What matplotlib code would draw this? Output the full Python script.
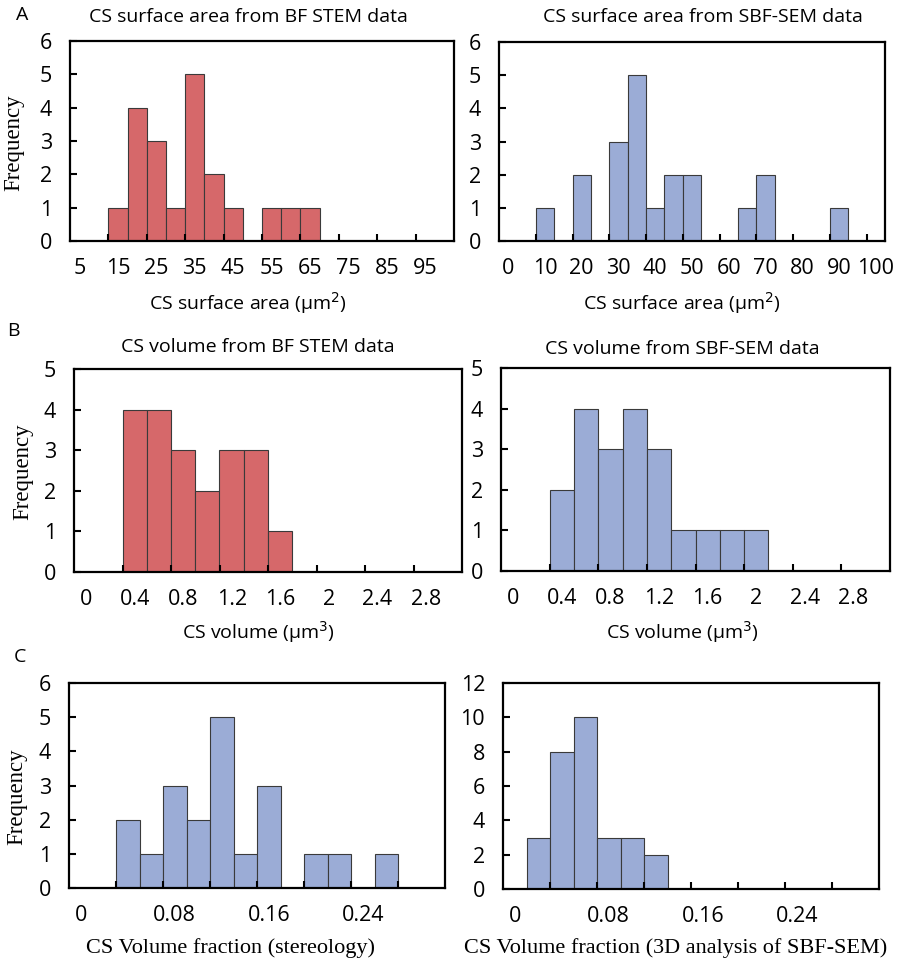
import matplotlib
matplotlib.use("Agg")
import matplotlib.pyplot as plt

W, H = 899, 967

SANS = ["Open Sans", "DejaVu Sans"]
SERIF = ["Liberation Serif", "DejaVu Serif"]

RED = "#D6686A"
BLUE = "#9BACD6"
EDGE = "#3a3a3a"

# Histogram categories (bin centres) and counts
area_bins_stem = [5, 10, 15, 20, 25, 30, 35, 40, 45, 50, 55, 60, 65, 70, 75, 80, 85, 90, 95, 100]
area_counts_stem = [0, 0, 1, 4, 3, 1, 5, 2, 1, 0, 1, 1, 1, 0, 0, 0, 0, 0, 0, 0]
area_labels_stem = ["5", "15", "25", "35", "45", "55", "65", "75", "85", "95"]

area_bins_sem = [0, 5, 10, 15, 20, 25, 30, 35, 40, 45, 50, 55, 60, 65, 70, 75, 80, 85, 90, 95, 100]
area_counts_sem = [0, 0, 1, 0, 2, 0, 3, 5, 1, 2, 2, 0, 0, 1, 2, 0, 0, 0, 1, 0, 0]
area_labels_sem = ["0", "10", "20", "30", "40", "50", "60", "70", "80", "90", "100"]

vol_bins = [0, 0.2, 0.4, 0.6, 0.8, 1.0, 1.2, 1.4, 1.6, 1.8, 2.0, 2.2, 2.4, 2.6, 2.8, 3.0]
vol_counts_stem = [0, 0, 4, 4, 3, 2, 3, 3, 1, 0, 0, 0, 0, 0, 0, 0]
vol_counts_sem = [0, 0, 2, 4, 3, 4, 3, 1, 1, 1, 1, 0, 0, 0, 0, 0]
vol_labels = ["0", "0.4", "0.8", "1.2", "1.6", "2", "2.4", "2.8"]

frac_bins = [0, 0.02, 0.04, 0.06, 0.08, 0.10, 0.12, 0.14, 0.16, 0.18, 0.20, 0.22, 0.24, 0.26, 0.28, 0.30]
frac_counts_stereo = [0, 0, 2, 1, 3, 2, 5, 1, 3, 0, 1, 1, 0, 1, 0, 0]
frac_counts_sbf = [0, 3, 8, 10, 3, 3, 2, 0, 0, 0, 0, 0, 0, 0, 0, 0]
frac_labels = ["0", "0.08", "0.16", "0.24"]

TICK_FS = 15.5
TITLE_FS = 14

fig = plt.figure(figsize=(W / 100, H / 100), dpi=100)


def add_axes_px(left, top, right, bottom):
    return fig.add_axes([left / W, 1 - bottom / H, (right - left) / W, (bottom - top) / H])


def histogram(ax, bins, counts, color, labels, label_step, ymax, ystep):
    width = bins[1] - bins[0]
    ax.bar(bins, counts, width=width, color=color, edgecolor=EDGE, linewidth=0.8)
    ax.set_xlim(bins[0] - width / 2, bins[-1] + width / 2)
    ax.set_ylim(0, ymax)
    ax.set_xticks(bins[::label_step])
    ax.set_xticklabels(labels, family=SANS, fontsize=TICK_FS)
    ax.set_xticks([b + width / 2 for b in bins[1:-1:2]], minor=True)
    ax.set_yticks(range(0, ymax + 1, ystep))
    ax.set_yticklabels([str(v) for v in range(0, ymax + 1, ystep)], family=SANS, fontsize=TICK_FS)
    ax.tick_params(axis="x", which="major", length=0, pad=12)
    ax.tick_params(axis="x", which="minor", direction="in", length=5, width=1.5)
    ax.tick_params(axis="y", direction="in", length=5, width=1.5, pad=13)
    for s in ax.spines.values():
        s.set_linewidth(1.6)


def text_px(x, y, s, **kw):
    fig.text(x / W, 1 - y / H, s, ha="center", va="center", **kw)


# Row A
ax = add_axes_px(70, 41, 454, 241)
histogram(ax, area_bins_stem, area_counts_stem, RED, area_labels_stem, 2, 6, 1)
ax = add_axes_px(499, 42, 885, 241)
histogram(ax, area_bins_sem, area_counts_sem, BLUE, area_labels_sem, 2, 6, 1)

# Row B
ax = add_axes_px(74, 369, 462, 572)
histogram(ax, vol_bins, vol_counts_stem, RED, vol_labels, 2, 5, 1)
ax = add_axes_px(501, 368, 890, 571)
histogram(ax, vol_bins, vol_counts_sem, BLUE, vol_labels, 2, 5, 1)

# Row C
ax = add_axes_px(69, 683, 445, 888)
histogram(ax, frac_bins, frac_counts_stereo, BLUE, frac_labels, 4, 6, 1)
ax = add_axes_px(503, 683, 879, 889)
histogram(ax, frac_bins, frac_counts_sbf, BLUE, frac_labels, 4, 12, 2)

# Panel letters
text_px(22, 15, "A", family=SANS, fontsize=14)
text_px(13, 331, "B", family=SANS, fontsize=14)
text_px(20, 657, "C", family=SANS, fontsize=14)

# Titles
text_px(248, 17, "CS surface area from BF STEM data", family=SANS, fontsize=TITLE_FS)
text_px(703, 17, "CS surface area from SBF-SEM data", family=SANS, fontsize=TITLE_FS)
text_px(258, 347, "CS volume from BF STEM data", family=SANS, fontsize=TITLE_FS)
text_px(682, 349, "CS volume from SBF-SEM data", family=SANS, fontsize=TITLE_FS)

# X labels
text_px(248, 303, "CS surface area (\u03bcm$^2$)", family=SANS, fontsize=TITLE_FS)
text_px(682, 303, "CS surface area (\u03bcm$^2$)", family=SANS, fontsize=TITLE_FS)
text_px(258, 632, "CS volume (\u03bcm$^3$)", family=SANS, fontsize=TITLE_FS)
text_px(682, 632, "CS volume (\u03bcm$^3$)", family=SANS, fontsize=TITLE_FS)
text_px(230, 948, "CS Volume fraction (stereology)", family=SERIF, fontsize=16)
text_px(676, 948, "CS Volume fraction (3D analysis of SBF-SEM)", family=SERIF, fontsize=16)

# Y labels
text_px(14, 143, "Frequency", family=SERIF, fontsize=16.5, rotation=90)
text_px(23, 472, "Frequency", family=SERIF, fontsize=16.5, rotation=90)
text_px(17, 797, "Frequency", family=SERIF, fontsize=16.5, rotation=90)

fig.savefig("out.png", dpi=100)
